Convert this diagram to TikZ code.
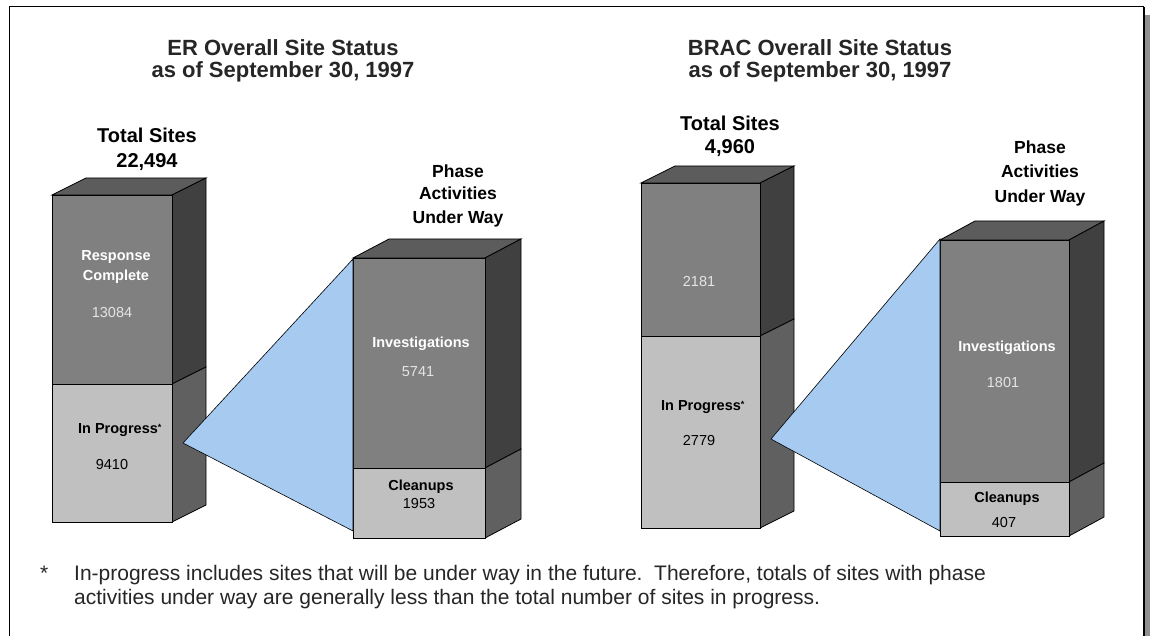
\documentclass[tikz,border=0pt]{standalone}
\usepackage{fontspec}
\setmainfont{Liberation Sans}
\definecolor{frontdark}{HTML}{808080}
\definecolor{sidedark}{HTML}{404040}
\definecolor{topdark}{HTML}{5C5C5C}
\definecolor{frontlight}{HTML}{C0C0C0}
\definecolor{sidelight}{HTML}{606060}
\definecolor{wedge}{HTML}{A6CAF0}
\definecolor{shadowgray}{HTML}{909090}
% 3-D stacked column: left, right, top, split, bottom, depth x, depth y
\newcommand{\stackcol}[7]{%
  \filldraw[draw=black,line width=0.8pt,fill=topdark]
    (#1,#3) -- (#2,#3) -- ({#2+#6},{#3+#7}) -- ({#1+#6},{#3+#7}) -- cycle;
  \filldraw[draw=black,line width=0.8pt,fill=sidedark]
    (#2,#3) -- ({#2+#6},{#3+#7}) -- ({#2+#6},{#4+#7}) -- (#2,#4) -- cycle;
  \filldraw[draw=black,line width=0.8pt,fill=sidelight]
    (#2,#4) -- ({#2+#6},{#4+#7}) -- ({#2+#6},{#5+#7}) -- (#2,#5) -- cycle;
  \filldraw[draw=black,line width=0.8pt,fill=frontdark] (#1,#3) rectangle (#2,#4);
  \filldraw[draw=black,line width=0.8pt,fill=frontlight] (#1,#4) rectangle (#2,#5);
}
\newcommand{\astx}{\rlap{\raisebox{3pt}{\fontsize{9}{9}\selectfont*}}}
\tikzset{
  lbl/.style={anchor=base,inner sep=0pt},
  title/.style={lbl,font=\bfseries\fontsize{22}{22}\selectfont,text=black!85},
  head/.style={lbl,font=\bfseries\fontsize{20}{20}\selectfont},
  phasehead/.style={lbl,font=\bfseries\fontsize{17.5}{17.5}\selectfont},
  darklbl/.style={lbl,font=\bfseries\fontsize{14.5}{14.5}\selectfont,text=white},
  darknum/.style={lbl,font=\fontsize{14.5}{14.5}\selectfont,text=white!90!black},
  lightlbl/.style={lbl,font=\bfseries\fontsize{14.5}{14.5}\selectfont,text=black},
  lightnum/.style={lbl,font=\fontsize{14.5}{14.5}\selectfont,text=black},
  wedgefill/.style={fill=wedge,draw=black,line width=0.6pt},
  notetext/.style={anchor=base west,inner sep=0pt,font=\fontsize{21}{21}\selectfont,text=black!85},
}
\begin{document}
\begin{tikzpicture}[x=1pt,y=-1pt]
\useasboundingbox (0,0) rectangle (1150,636);
% frame with drop shadow
\fill[shadowgray] (1145,15) rectangle (1151,640);
\draw[line width=1pt] (9,7) -- (1144,7);
\draw[line width=1pt] (9,7) -- (9,640);
\draw[line width=2pt] (1144,7) -- (1144,640);

% ---------------- ER ----------------
\node[title] (ert1) at (283,56) {ER Overall Site Status};
\node[title] (ert2) at (283,78) {as of September 30, 1997};
\node[head] (ertot1) at (147,143) {Total Sites};
\node[head] (ertot2) at (147,168) {22,494};
\stackcol{52}{172}{195}{384}{522}{34}{-17}
\stackcol{353}{485}{258}{468}{538}{36}{-19}
\coordinate (erapex) at (183,443);
\coordinate (erptop) at (353,259);
\coordinate (erpbot) at (353,531);
\fill[wedgefill] (erapex) -- (erptop) -- (erpbot) -- cycle;
\node[darklbl] (erresp1) at (116,261) {Response};
\node[darklbl] (erresp2) at (116,280) {Complete};
\node[darknum] (errespn) at (112,317) {13084};
\node[lightlbl] (erprog) at (118,433) {In Progress\astx};
\node[lightnum] (erprogn) at (112,469) {9410};
\node[phasehead] (erph1) at (458,178) {Phase};
\node[phasehead] (erph2) at (458,200) {Activities};
\node[phasehead] (erph3) at (458,224) {Under Way};
\node[darklbl] (erinv) at (421,347) {Investigations};
\node[darknum] (erinvn) at (418,376) {5741};
\node[lightlbl] (erclean) at (421,490) {Cleanups};
\node[lightnum] (ercleann) at (419,508) {1953};

% ---------------- BRAC ----------------
\node[title] (brt1) at (820,56) {BRAC Overall Site Status};
\node[title] (brt2) at (820,78) {as of September 30, 1997};
\node[head] (brtot1) at (730,131) {Total Sites};
\node[head] (brtot2) at (730,154) {4,960};
\stackcol{641}{760}{183}{336}{528}{34}{-17}
\stackcol{940}{1069}{240}{482}{536}{35}{-19}
\coordinate (brapex) at (771,439);
\coordinate (brptop) at (940,239);
\coordinate (brpbot) at (940,531);
\fill[wedgefill] (brapex) -- (brptop) -- (brpbot) -- cycle;
\node[darknum] (brdone) at (699,286) {2181};
\node[lightlbl] (brprog) at (701,410) {In Progress\astx};
\node[lightnum] (brprogn) at (699,445) {2779};
\node[phasehead] (brph1) at (1040,154) {Phase};
\node[phasehead] (brph2) at (1040,178) {Activities};
\node[phasehead] (brph3) at (1040,203) {Under Way};
\node[darklbl] (brinv) at (1007,351) {Investigations};
\node[darknum] (brinvn) at (1003,387) {1801};
\node[lightlbl] (brclean) at (1007,502) {Cleanups};
\node[lightnum] (brcleann) at (1004,527) {407};

% ---------------- footnote ----------------
\node[notetext] (star) at (40,580) {*};
\node[notetext] (note1) at (74,580)
  {In-progress includes sites that will be under way in the future.\ \ Therefore, totals of sites with phase};
\node[notetext] (note2) at (74,604)
  {activities under way are generally less than the total number of sites in progress.};
\end{tikzpicture}
\end{document}
